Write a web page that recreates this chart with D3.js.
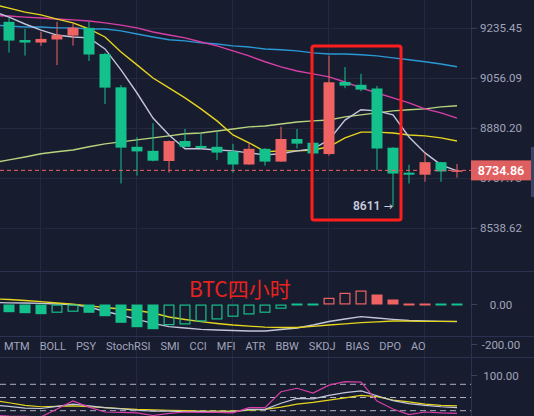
<!DOCTYPE html>
<html><head><meta charset="utf-8">
<script src="https://cdn.jsdelivr.net/npm/d3@7/dist/d3.min.js"></script>
<style>html,body{margin:0;padding:0;background:#181c2f;overflow:hidden}</style>
</head><body><svg id="c" width="534" height="416"></svg>
<script>
// ---- data (4h BTC candles, oldest first) ----
const opens  = [9259,9193,9184,9195,9209,9237,9143,9024,8816,8802,8767,8836,8819,8816,8800,8755,8809,8765,8843,8830,8791,9043,9033,9020,8813,8727,8720,8763,8730];
const highs  = [9272,9233,9223,9259,9254,9259,9147,9032,8849,8898,8838,8878,8862,8867,8826,8829,8811,8886,8878,8833,9137,9096,9072,9029,8814,8754,8796,8764,8757];
const lows   = [9148,9137,9172,9103,9173,9118,8965,8690,8717,8766,8727,8814,8809,8770,8727,8754,8751,8764,8810,8790,8785,9021,9010,8736,8611,8690,8696,8696,8710];
const closes = [9191,9184,9197,9211,9238,9141,9023,8813,8800,8768,8836,8816,8812,8796,8755,8809,8765,8843,8827,8793,9042,9030,9016,8810,8724,8720,8763,8731,8734.86];
// moving averages: first value belongs to the bar before the first visible candle
const maWhite   = [9298,9276,9251,9229,9211,9204,9201,9161,9086,9004,8916,8857,8809,8809,8805,8802,8795,8788,8792,8802,8809,8840,8909,8945,8941,8927,8850,8795,8754,8733];
const maYellow  = [9323,9309,9294,9284,9269,9255,9233,9204,9150,9104,9057,9022,8987,8948,8906,8857,8830,8799,8802,8802,8805,8816,8847,8867,8867,8864,8857,8854,8847,8836];
const maMagenta = [9282,9280,9276,9273,9269,9266,9262,9255,9247,9237,9222,9211,9201,9186,9172,9154,9136,9115,9097,9082,9072,9061,9043,9022,9004,8987,8969,8948,8934,8916];
const maBlue    = [9247,9244,9240,9240,9237,9237,9233,9233,9226,9215,9204,9194,9190,9183,9179,9172,9168,9161,9158,9154,9147,9143,9143,9140,9136,9129,9122,9115,9107,9097];
const maOlive   = [8761,8771,8781,8792,8799,8805,8816,8826,8833,8840,8847,8854,8861,8864,8871,8878,8885,8888,8895,8902,8906,8909,8920,8927,8934,8941,8945,8948,8955,8959];
const priceTicks = [9235.45,9056.09,8880.20,8707.73,8538.62];
const lastPrice = 8734.86;
const lowMark = 8611;
// MACD pane
const macdHist = [-38.5,-43.5,-48.5,-41.5,-36.5,-41.5,-58.5,-91.5,-113.5,-123.5,-103.5,-100,-85,-75,-61.5,-50,-41.5,-21.5,-3,-3,33.5,58.5,70,50,25,3,3,-3,-3];
const macdDif  = [10,8.5,7.5,6,2.5,-1,-12.5,-35,-52.5,-74,-94,-111,-117.5,-124,-127.5,-130,-132.5,-132.5,-125,-117.5,-102.5,-85,-72.5,-61,-67.5,-74,-80,-82.5,-84,-85.5];
const macdDea  = [27.5,25,20,14,7.5,1.5,-6.5,-15,-22.5,-30,-42.5,-62.5,-75,-86,-95,-102.5,-108,-113,-115,-115,-109,-102.5,-96.5,-91,-86.5,-82.5,-83.5,-84,-84,-84];
const macdTicks = [0,-200];
// KDJ pane
const kdjK = [33,30,26,25,30,35,31,27,24,21,19,19,18,18,17,17,23,23,37,48,47,55,61,65,54,43,36,32,29,27];
const kdjD = [44,38,32,29,30,31,29,27,25,23,22,21,20,19,19,19,21,23,28,35,39,44,49,55,52,44,40,35,32,31];
const kdjJ = [10,8,7,6,24,42,28,17,16,15,9,14,17,16,16,15,27,27,63,71,60,78,86,85,42,24,11,17,15,14];
const kdjTicks = [100,0];
const kdjLevels = [80,50,20];
const tabs = ["MTM","BOLL","PSY","StochRSI","SMI","CCI","MFI","ATR","BBW","SKDJ","BIAS","DPO","AO"];
const gridIdx = [2,8,14,20,26];
const title = "BTC四小时";

// ---- layout ----
const W=534,H=416,plotR=471;
const C={bg:"#181c2f",grid:"#242940",sep:"#2b3150",txt:"#a0a5bb",up:"#ef6363",down:"#14c08b",
  white:"#c3c6da",yellow:"#e6d51e",magenta:"#d63fa6",blue:"#2a98d4",olive:"#b6d47e"};
const svg=d3.select("#c");
svg.append("rect").attr("width",W).attr("height",H).attr("fill",C.bg);

const xs=d3.scaleLinear().domain([0,28]).range([9,457]);
const yP=d3.scaleLog().domain([8538.62,9235.45]).range([228.3,28.3]);
const yM=d3.scaleLinear().domain([-200,0]).range([344.5,304.5]);
const yK=d3.scaleLinear().domain([0,100]).range([419.5,375.5]);
const font="Roboto, 'Noto Sans', sans-serif";

const defs=svg.append("defs");
function clip(id,x,y,w,h){defs.append("clipPath").attr("id",id).append("rect").attr("x",x).attr("y",y).attr("width",w).attr("height",h);}
clip("cm",0,0,plotR,271); clip("cd",0,271,plotR,65); clip("ck",0,357,plotR,59);

// grid
const g=svg.append("g");
g.selectAll("line.v").data(gridIdx).join("line").attr("x1",d=>xs(d)-0.5).attr("x2",d=>xs(d)-0.5)
  .attr("y1",0).attr("y2",H).attr("stroke",C.grid);
g.selectAll("line.h").data(priceTicks).join("line").attr("x1",0).attr("x2",plotR)
  .attr("y1",d=>Math.round(yP(d))+0.5).attr("y2",d=>Math.round(yP(d))+0.5).attr("stroke",C.grid);
[271,336,357].forEach(y=>g.append("line").attr("x1",0).attr("x2",W).attr("y1",y+0.5).attr("y2",y+0.5).attr("stroke",C.sep));
g.append("line").attr("x1",plotR+0.5).attr("x2",plotR+0.5).attr("y1",0).attr("y2",H).attr("stroke",C.sep);

// main pane
const mp=svg.append("g").attr("clip-path","url(#cm)");
const lineP=d3.line().x((d,i)=>xs(i-1)).y(d=>yP(d)).curve(d3.curveLinear);
[[maOlive,C.olive],[maBlue,C.blue],[maMagenta,C.magenta],[maYellow,C.yellow],[maWhite,C.white]].forEach(([d,c])=>{
  mp.append("path").datum(d).attr("d",lineP).attr("fill","none").attr("stroke",c).attr("stroke-width",1.4);
});
const candles=d3.range(opens.length).map(i=>({i,o:opens[i],h:highs[i],l:lows[i],c:closes[i]}));
const cg=mp.selectAll("g.c").data(candles).join("g");
cg.append("line").attr("x1",d=>xs(d.i)).attr("x2",d=>xs(d.i)).attr("y1",d=>yP(d.h)).attr("y2",d=>yP(d.l))
  .attr("stroke",d=>d.c>=d.o?C.up:C.down).attr("stroke-width",1);
cg.append("rect").attr("x",d=>xs(d.i)-5.5).attr("width",11)
  .attr("y",d=>yP(Math.max(d.o,d.c))).attr("height",d=>Math.max(1.5,yP(Math.min(d.o,d.c))-yP(Math.max(d.o,d.c))))
  .attr("fill",d=>d.c>=d.o?C.up:C.down);
mp.append("line").attr("x1",0).attr("x2",plotR).attr("y1",yP(lastPrice)).attr("y2",yP(lastPrice))
  .attr("stroke",C.up).attr("stroke-dasharray","4,3").attr("stroke-width",1);

// axis labels (price)
const ax=svg.append("g").attr("font-family",font).attr("font-size",11.5).attr("fill",C.txt);
ax.selectAll("line.t").data(priceTicks).join("line").attr("x1",plotR).attr("x2",plotR+6)
  .attr("y1",d=>yP(d)).attr("y2",d=>yP(d)).attr("stroke","#3c425c");
ax.selectAll("text.p").data(priceTicks).join("text").attr("x",501).attr("y",d=>yP(d))
  .attr("text-anchor","middle").attr("dominant-baseline","central").text(d=>d.toFixed(2));
// last price tag
const ly=yP(lastPrice);
svg.append("rect").attr("x",plotR).attr("y",ly-10).attr("width",60).attr("height",20).attr("fill",C.up).attr("opacity",0.93);
svg.append("text").attr("x",501).attr("y",ly).attr("text-anchor","middle").attr("dominant-baseline","central")
  .attr("font-family",font).attr("font-size",12.5).attr("font-weight",600).attr("fill","#ffffff").text(lastPrice.toFixed(2));
svg.append("rect").attr("x",531).attr("y",147).attr("width",3).attr("height",50).attr("fill","#3b4264");

// annotation
svg.append("rect").attr("x",312).attr("y",46).attr("width",89).attr("height",174).attr("rx",2)
  .attr("fill","none").attr("stroke","#ff1e1e").attr("stroke-width",3);
const lm=svg.append("text").attr("x",353).attr("y",yP(lowMark)-1).attr("dominant-baseline","central")
  .attr("font-family",font).attr("font-size",12).attr("font-weight",600).attr("fill","#c6cadc");
lm.append("tspan").text(lowMark+" ");
lm.append("tspan").attr("font-family","'DejaVu Sans', sans-serif").attr("font-size",11).attr("font-weight",400).text("→");

// MACD pane
const dp=svg.append("g").attr("clip-path","url(#cd)");
const lineM=d3.line().x((d,i)=>xs(i-1)).y(d=>yM(d));
dp.append("path").datum(macdDif).attr("d",lineM).attr("fill","none").attr("stroke",C.white).attr("stroke-width",1.3);
dp.append("path").datum(macdDea).attr("d",lineM).attr("fill","none").attr("stroke",C.yellow).attr("stroke-width",1.3);
const hist=macdHist.map((v,i)=>({i,v,filled:i===0||v<macdHist[i-1]||Math.abs(v)<5}));
dp.selectAll("rect.h").data(hist).join("rect")
  .attr("x",d=>xs(d.i)-(d.filled?5.5:4.9)).attr("width",d=>d.filled?11:9.8)
  .attr("y",d=>Math.abs(d.v)<5?yM(0)-1:Math.min(yM(0),yM(d.v))+(d.filled?0:0.6))
  .attr("height",d=>Math.abs(d.v)<5?2:Math.abs(yM(d.v)-yM(0))-(d.filled?0:1.2))
  .attr("fill",d=>d.filled?(d.v>=0?C.up:C.down):"none")
  .attr("stroke",d=>d.filled?"none":(d.v>=0?C.up:C.down)).attr("stroke-width",1.2);
ax.selectAll("line.m").data(macdTicks).join("line").attr("x1",plotR).attr("x2",plotR+6)
  .attr("y1",d=>yM(d)).attr("y2",d=>yM(d)).attr("stroke","#3c425c");
ax.selectAll("text.m").data(macdTicks).join("text").attr("x",501).attr("y",d=>yM(d))
  .attr("text-anchor","middle").attr("dominant-baseline","central").text(d=>d.toFixed(2));
svg.append("text").attr("x",189).attr("y",297).attr("font-family","'Noto Sans CJK SC', sans-serif")
  .attr("font-size",21).attr("fill","#e8231e").text(title);

// tabs
const tg=svg.append("g").attr("font-family",font).attr("font-size",11).attr("fill",C.txt);
let tx=4;
tabs.forEach(t=>{const el=tg.append("text").attr("x",tx).attr("y",346.5).attr("dominant-baseline","central").text(t);
  tx+=el.node().getComputedTextLength()+10;});

// KDJ pane
const kp=svg.append("g").attr("clip-path","url(#ck)");
kp.selectAll("line.l").data(kdjLevels).join("line").attr("x1",0).attr("x2",plotR)
  .attr("y1",d=>yK(d)).attr("y2",d=>yK(d)).attr("stroke","#c9ccd8").attr("stroke-dasharray","6,4").attr("stroke-width",1).attr("opacity",0.85);
const lineK=d3.line().x((d,i)=>xs(i-1)).y(d=>yK(d));
kp.append("path").datum(kdjD).attr("d",lineK).attr("fill","none").attr("stroke",C.yellow).attr("stroke-width",1.2);
kp.append("path").datum(kdjK).attr("d",lineK).attr("fill","none").attr("stroke",C.white).attr("stroke-width",1.2);
kp.append("path").datum(kdjJ).attr("d",lineK).attr("fill","none").attr("stroke",C.magenta).attr("stroke-width",1.2);
ax.selectAll("line.k").data(kdjTicks).join("line").attr("x1",plotR).attr("x2",plotR+6)
  .attr("y1",d=>yK(d)).attr("y2",d=>yK(d)).attr("stroke","#3c425c");
ax.selectAll("text.k").data(kdjTicks).join("text").attr("x",501).attr("y",d=>yK(d))
  .attr("text-anchor","middle").attr("dominant-baseline","central").text(d=>d.toFixed(2));
</script></body></html>
